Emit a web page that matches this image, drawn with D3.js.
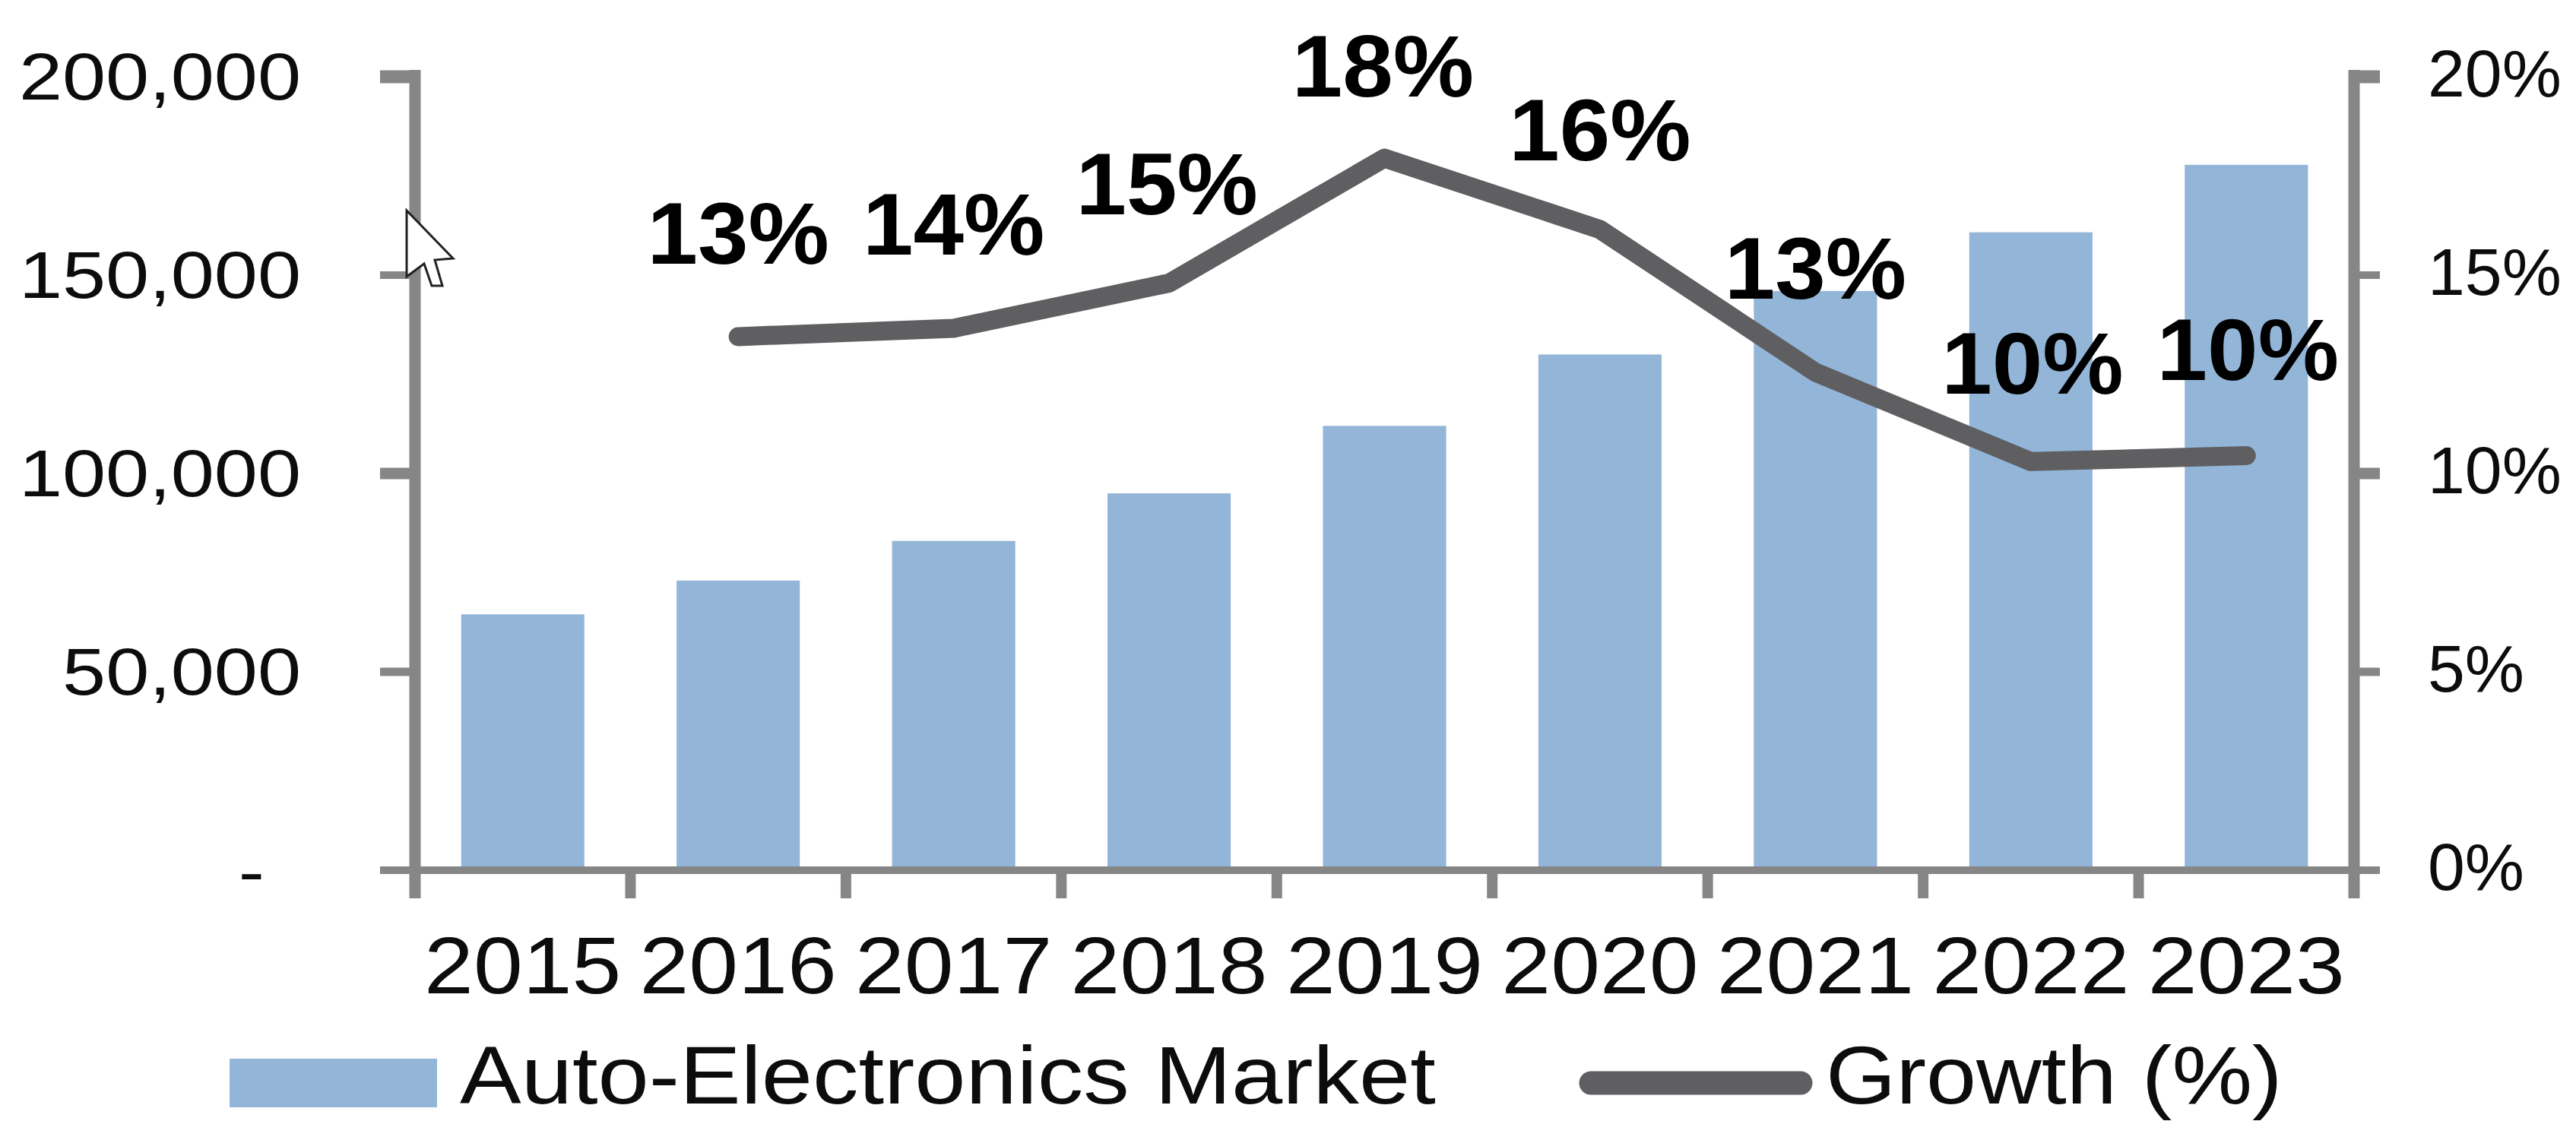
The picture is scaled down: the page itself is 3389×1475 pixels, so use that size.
<!DOCTYPE html>
<html>
<head>
<meta charset="utf-8">
<script src="https://cdn.jsdelivr.net/npm/d3@7"></script>
<style>
  html, body { margin: 0; padding: 0; background: #fff; }
  svg { display: block; }
  text { font-family: "Liberation Sans", Arial, sans-serif; fill: #0c0c0c; }
</style>
</head>
<body>
<svg id="chart"></svg>
<script>
// Auto-electronics market size and its yearly growth
const years = ["2015", "2016", "2017", "2018", "2019", "2020", "2021", "2022", "2023"];
const marketValues = [64500, 73000, 83000, 95000, 112000, 130000, 146000, 160800, 177800];
const growthYears = ["2016", "2017", "2018", "2019", "2020", "2021", "2022", "2023"];
const growthValues = [0.1345, 0.1366, 0.148, 0.1795, 0.1615, 0.1255, 0.103, 0.1045];
const leftTicks = [0, 50000, 100000, 150000, 200000];
const rightTicks = [0, 0.05, 0.1, 0.15, 0.2];
const legendLabels = ["Auto-Electronics Market", "Growth (%)"];
// Nudges for the growth labels, so they clear the line and each other
const labelOffsets = [[0, -96], [0, -97], [-3, -90], [-2, -81], [0, -91], [0, -97], [2, -89], [2, -100]];

const W = 3389, H = 1475;
const plot = { left: 546, right: 3097, top: 101, bottom: 1145 };

const svg = d3.select("#chart").attr("width", W).attr("height", H);

const x = d3.scaleBand().domain(years).range([plot.left, plot.right])
  .paddingInner(0.428).paddingOuter(0.214);
const xEdges = d3.scaleLinear().domain([0, years.length]).range([plot.left, plot.right]);
const yLeft = d3.scaleLinear().domain([0, 200000]).range([plot.bottom, plot.top]);
const yRight = d3.scaleLinear().domain([0, 0.2]).range([plot.bottom, plot.top]);

const BLUE = "#93b6d8", AXIS = "#868686", LINE = "#5f5f62";

// Text that is wider than its font's natural proportions
function wideText(sel, px, py, size, stretch, anchor, weight) {
  return sel.attr("transform", `translate(${px},${py}) scale(${stretch},1)`)
    .attr("font-size", size)
    .attr("text-anchor", anchor)
    .attr("font-weight", weight || 400);
}

// Bars
svg.append("g").selectAll("rect").data(years).join("rect")
  .attr("x", d => x(d))
  .attr("width", x.bandwidth())
  .attr("y", (d, i) => yLeft(marketValues[i]))
  .attr("height", (d, i) => plot.bottom - yLeft(marketValues[i]))
  .attr("fill", BLUE);

// Axis lines and tick marks; the top tick on each side is the heaviest
const tickWeight = i => [0, 11, 15, 10, 17][i];
const axes = svg.append("g").attr("stroke", AXIS).attr("fill", "none");
axes.append("line").attr("x1", plot.left).attr("x2", plot.left)
  .attr("y1", plot.top - 9).attr("y2", 1182).attr("stroke-width", 15);
axes.append("line").attr("x1", plot.right).attr("x2", plot.right)
  .attr("y1", plot.top - 9).attr("y2", 1182).attr("stroke-width", 15);
axes.append("line").attr("x1", 500).attr("x2", 3131)
  .attr("y1", plot.bottom).attr("y2", plot.bottom).attr("stroke-width", 10);
axes.selectAll(".tick-left").data(leftTicks.slice(1)).join("line")
  .attr("x1", 500).attr("x2", plot.left)
  .attr("y1", d => yLeft(d)).attr("y2", d => yLeft(d))
  .attr("stroke-width", (d, i) => tickWeight(i + 1));
axes.selectAll(".tick-right").data(rightTicks.slice(1)).join("line")
  .attr("x1", plot.right).attr("x2", 3131)
  .attr("y1", d => yRight(d)).attr("y2", d => yRight(d))
  .attr("stroke-width", (d, i) => tickWeight(i + 1));
axes.selectAll(".tick-x").data(d3.range(1, years.length)).join("line")
  .attr("x1", d => xEdges(d)).attr("x2", d => xEdges(d))
  .attr("y1", plot.bottom).attr("y2", 1182).attr("stroke-width", 14);

// Left axis labels; zero shows as a dash
svg.append("g").selectAll("text").data(leftTicks).join("text")
  .text(d => d === 0 ? "-" : d3.format(",")(d))
  .each(function (d) {
    if (d === 0) wideText(d3.select(this), 348, yLeft(d) + 32, 87, 1.18, "end");
    else wideText(d3.select(this), 396, yLeft(d) + 30, 87, 1.18, "end");
  });

// Right axis labels
svg.append("g").selectAll("text").data(rightTicks).join("text")
  .text(d => d3.format(".0%")(d))
  .each(function (d) {
    wideText(d3.select(this), 3194, yRight(d) + 26, 87, 1.01, "start");
  });

// Category labels
svg.append("g").selectAll("text").data(years).join("text")
  .text(d => d)
  .each(function (d) {
    wideText(d3.select(this), x(d) + x.bandwidth() / 2, 1307, 105, 1.11, "middle");
  });

// Growth line
const xCenter = d => x(d) + x.bandwidth() / 2;
const growthLine = d3.line().x(d => xCenter(d[0])).y(d => yRight(d[1]));
svg.append("path")
  .datum(d3.zip(growthYears, growthValues))
  .attr("d", growthLine)
  .attr("fill", "none")
  .attr("stroke", LINE)
  .attr("stroke-width", 25)
  .attr("stroke-linecap", "round")
  .attr("stroke-linejoin", "round");

// Growth labels
svg.append("g").selectAll("text").data(growthYears).join("text")
  .text((d, i) => d3.format(".0%")(growthValues[i]))
  .style("fill", "#000")
  .each(function (d, i) {
    const px = xCenter(d) + labelOffsets[i][0];
    const py = yRight(growthValues[i]) + labelOffsets[i][1];
    wideText(d3.select(this), px, py, 115, 1.04, "middle", 700);
  });

// Legend
const legend = svg.append("g");
legend.append("rect").attr("x", 302).attr("y", 1393).attr("width", 273).attr("height", 64).attr("fill", BLUE);
wideText(legend.append("text").text(legendLabels[0]), 605, 1452, 108, 1.12, "start");
legend.append("line").attr("x1", 2093).attr("x2", 2369).attr("y1", 1425).attr("y2", 1425)
  .attr("stroke", LINE).attr("stroke-width", 31).attr("stroke-linecap", "round");
wideText(legend.append("text").text(legendLabels[1]), 2402, 1452, 108, 1.10, "start");

// Mouse pointer resting on the left axis
const pointer = d3.path();
pointer.moveTo(535, 277); pointer.lineTo(535, 364); pointer.lineTo(558, 347);
pointer.lineTo(568, 376); pointer.lineTo(582, 376); pointer.lineTo(572, 342);
pointer.lineTo(596, 340); pointer.closePath();
svg.append("path").attr("d", pointer.toString()).attr("fill", "#fff").attr("stroke", "#222").attr("stroke-width", 3);
</script>
</body>
</html>
